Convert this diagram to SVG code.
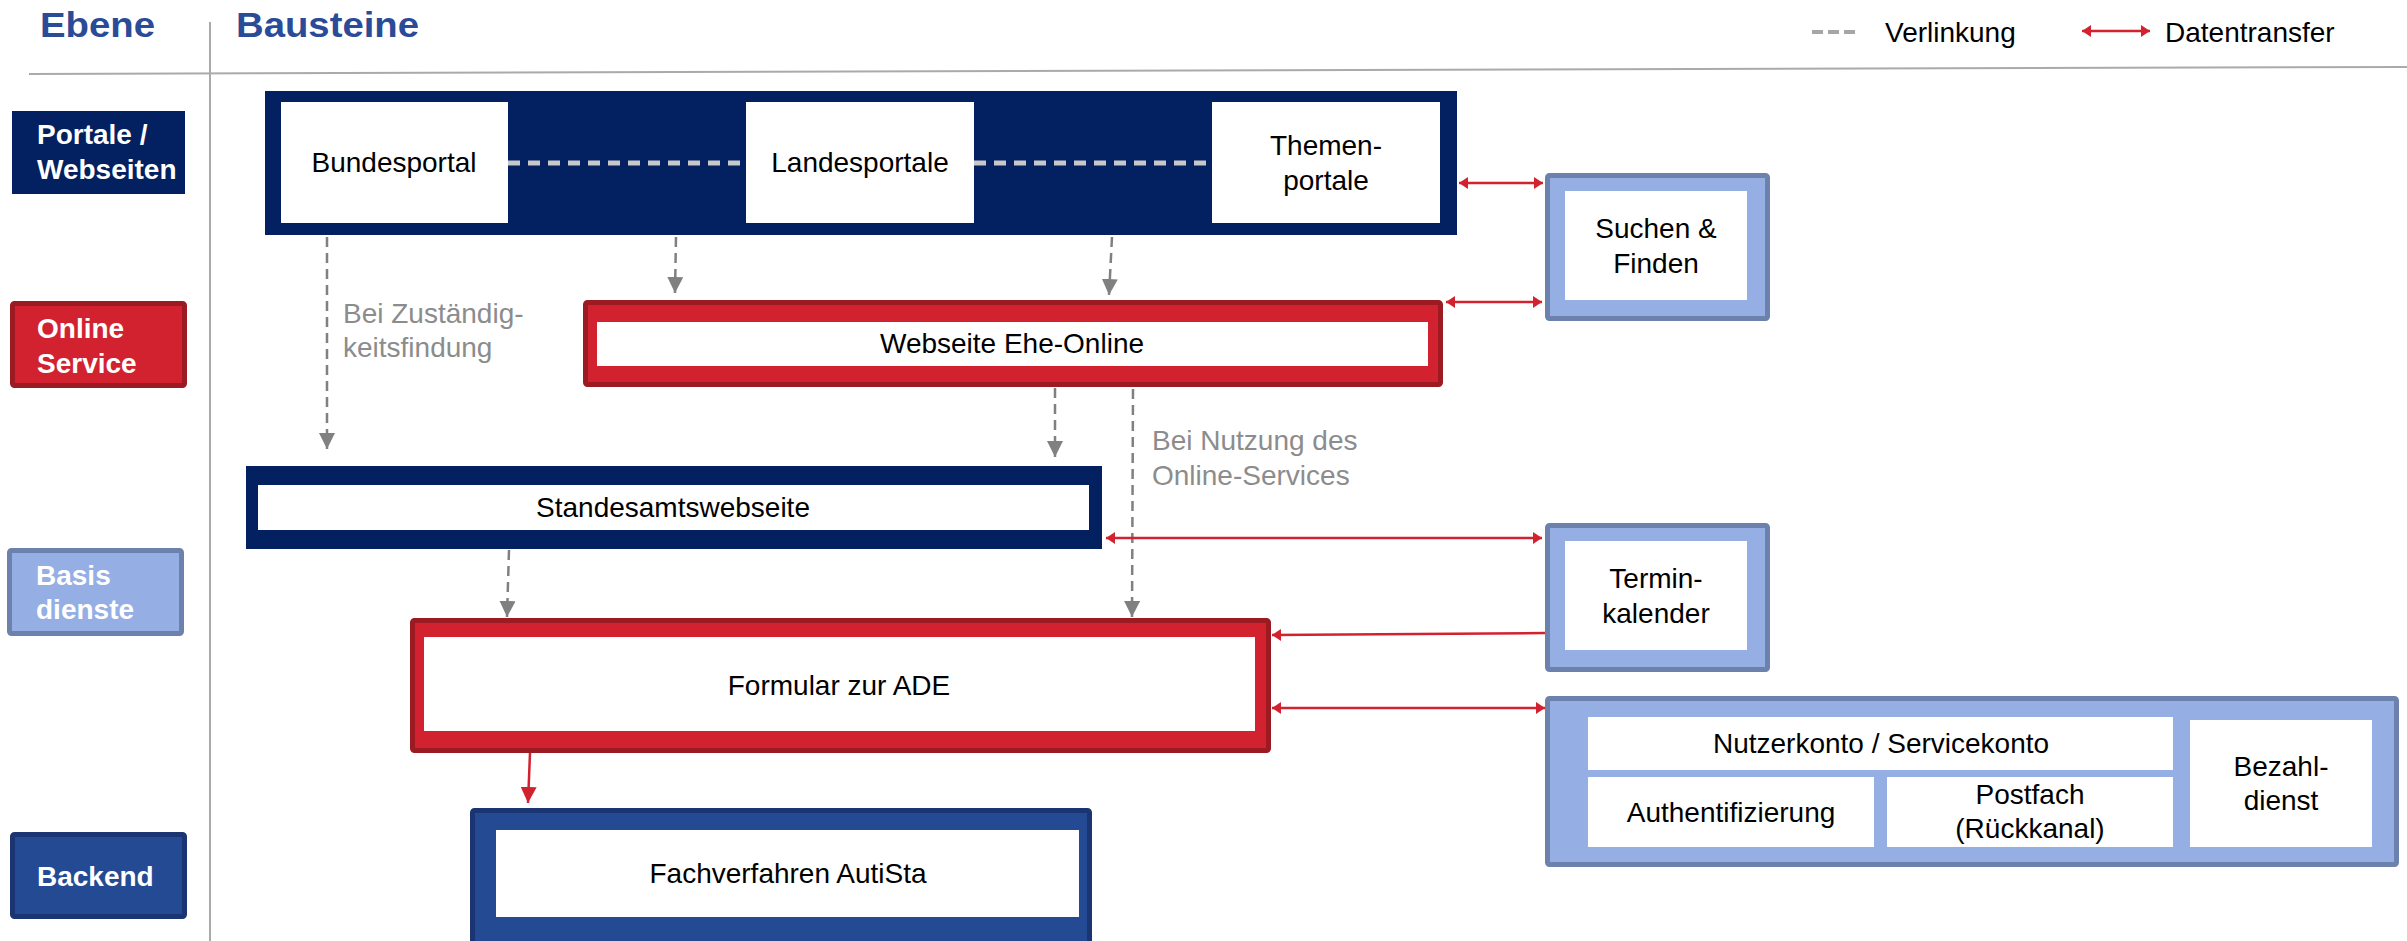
<svg xmlns="http://www.w3.org/2000/svg" width="2407" height="941" viewBox="0 0 2407 941">
<style>
text{font-family:"Liberation Sans",Arial,sans-serif;font-size:28px;fill:#000}
.title{font-size:35px;font-weight:bold;fill:#2a4b97}
.lbl{font-weight:bold;fill:#fff;font-size:28px}
.c{text-anchor:middle}
.note{fill:#8c8c8c}
.navy{fill:#032060}
.red{fill:#d3222f;stroke:#9c1a22;stroke-width:5}
.lb{fill:#95aee3;stroke:#6c82ad;stroke-width:5}
.blue{fill:#244a93;stroke:#1a3572;stroke-width:5}
.w{fill:#fff}
.link{stroke:#c8c8c8;stroke-width:5;stroke-dasharray:12 8;fill:none}
.ga{stroke:#808080;stroke-width:2.5;stroke-dasharray:10 6;fill:none;marker-end:url(#ga)}
.ra{stroke:#d3222f;stroke-width:2.5;fill:none}
.dbl{marker-start:url(#rs);marker-end:url(#rs)}
.one{marker-end:url(#rs)}
.big{marker-end:url(#rb)}
</style>
<defs>
<marker id="ga" markerUnits="userSpaceOnUse" markerWidth="16" markerHeight="16" refX="16" refY="8" orient="auto"><path d="M0,0 L16,8 L0,16 z" fill="#808080"/></marker>
<marker id="rs" markerUnits="userSpaceOnUse" markerWidth="10" markerHeight="12" refX="9" refY="6" orient="auto-start-reverse"><path d="M0,0 L9,6 L0,12 z" fill="#d3222f"/></marker>
<marker id="rb" markerUnits="userSpaceOnUse" markerWidth="16" markerHeight="16" refX="16" refY="8" orient="auto"><path d="M0,0 L16,8 L0,16 z" fill="#d3222f"/></marker>
</defs>

<g id="header">
<text class="title" x="40" y="37" textLength="115" lengthAdjust="spacingAndGlyphs">Ebene</text>
<text class="title" x="236" y="37" textLength="183" lengthAdjust="spacingAndGlyphs">Bausteine</text>
<line x1="210" y1="22" x2="210" y2="941" stroke="#aaaaaa" stroke-width="2"/>
<line x1="29" y1="74" x2="2407" y2="67" stroke="#aaaaaa" stroke-width="2"/>
</g>

<g id="legend">
<line x1="1812" y1="32" x2="1857" y2="32" stroke="#a6a6a6" stroke-width="4" stroke-dasharray="11 5"/>
<text x="1885" y="42">Verlinkung</text>
<line x1="2082" y1="31" x2="2150" y2="31" class="ra dbl"/>
<text x="2165" y="42">Datentransfer</text>
</g>

<g id="label-portale">
<rect x="12" y="111" width="173" height="83" class="navy"/>
<text class="lbl" x="37" y="144">Portale /</text>
<text class="lbl" x="37" y="179">Webseiten</text>
</g>
<g id="label-online">
<rect x="12.5" y="303.5" width="172" height="82" rx="2" class="red"/>
<text class="lbl" x="37" y="338">Online</text>
<text class="lbl" x="37" y="373">Service</text>
</g>
<g id="label-basis">
<rect x="9.5" y="550.5" width="172" height="83" rx="2" class="lb"/>
<text class="lbl" x="36" y="585">Basis</text>
<text class="lbl" x="36" y="619">dienste</text>
</g>
<g id="label-backend">
<rect x="12.5" y="834.5" width="172" height="82" rx="2" class="blue"/>
<text class="lbl" x="37" y="886">Backend</text>
</g>

<g id="portale">
<rect x="265" y="91" width="1192" height="144" class="navy"/>
</g>
<g id="bundesportal">
<rect x="281" y="102" width="227" height="121" class="w"/>
<text class="c" x="394" y="172">Bundesportal</text>
</g>
<g id="landesportale">
<rect x="746" y="102" width="228" height="121" class="w"/>
<text class="c" x="860" y="172">Landesportale</text>
</g>
<g id="themenportale">
<rect x="1212" y="102" width="228" height="121" class="w"/>
<text class="c" x="1326" y="155">Themen-</text>
<text class="c" x="1326" y="190">portale</text>
</g>

<g id="suchen">
<rect x="1547.5" y="175.5" width="220" height="143" rx="2" class="lb"/>
<rect x="1565" y="191" width="182" height="109" class="w"/>
<text class="c" x="1656" y="238">Suchen &amp;</text>
<text class="c" x="1656" y="273">Finden</text>
</g>

<g id="webseite">
<rect x="585.5" y="302.5" width="855" height="82" rx="2" class="red"/>
<rect x="597" y="322" width="831" height="44" class="w"/>
<text class="c" x="1012" y="353">Webseite Ehe-Online</text>
</g>

<g id="standesamt">
<rect x="246" y="466" width="856" height="83" class="navy"/>
<rect x="258" y="485" width="831" height="45" class="w"/>
<text class="c" x="673" y="517">Standesamtswebseite</text>
</g>

<g id="termin">
<rect x="1547.5" y="525.5" width="220" height="144" rx="2" class="lb"/>
<rect x="1565" y="541" width="182" height="109" class="w"/>
<text class="c" x="1656" y="588">Termin-</text>
<text class="c" x="1656" y="623">kalender</text>
</g>

<g id="formular">
<rect x="412.5" y="620.5" width="856" height="130" rx="2" class="red"/>
<rect x="424" y="637" width="831" height="94" class="w"/>
<text class="c" x="839" y="695">Formular zur ADE</text>
</g>

<g id="fachverfahren">
<rect x="472.5" y="810.5" width="617" height="140" rx="2" class="blue"/>
<rect x="496" y="830" width="583" height="87" class="w"/>
<text class="c" x="788" y="883">Fachverfahren AutiSta</text>
</g>

<g id="nutzerkonto">
<rect x="1547.5" y="698.5" width="849" height="166" rx="2" class="lb"/>
<rect x="1588" y="717" width="585" height="53" class="w"/>
<text class="c" x="1881" y="753">Nutzerkonto / Servicekonto</text>
<rect x="1588" y="777" width="286" height="70" class="w"/>
<text class="c" x="1731" y="822">Authentifizierung</text>
<rect x="1887" y="777" width="286" height="70" class="w"/>
<text class="c" x="2030" y="804">Postfach</text>
<text class="c" x="2030" y="838">(Rückkanal)</text>
<rect x="2190" y="720" width="182" height="127" class="w"/>
<text class="c" x="2281" y="776">Bezahl-</text>
<text class="c" x="2281" y="810">dienst</text>
</g>

<g id="connectors">
<line x1="508" y1="163" x2="746" y2="163" class="link"/>
<line x1="974" y1="163" x2="1212" y2="163" class="link"/>
<line x1="327" y1="237" x2="327" y2="449" class="ga"/>
<line x1="676" y1="237" x2="675" y2="293" class="ga"/>
<line x1="1112" y1="237" x2="1109" y2="295" class="ga"/>
<line x1="1055" y1="388" x2="1055" y2="457" class="ga"/>
<line x1="1133" y1="389" x2="1132" y2="617" class="ga"/>
<line x1="509" y1="550" x2="507" y2="617" class="ga"/>
<text class="note" x="343" y="323">Bei Zuständig-</text>
<text class="note" x="343" y="357">keitsfindung</text>
<text class="note" x="1152" y="450">Bei Nutzung des</text>
<text class="note" x="1152" y="485">Online-Services</text>
<line x1="1459" y1="183" x2="1543" y2="183" class="ra dbl"/>
<line x1="1446" y1="302" x2="1542" y2="302" class="ra dbl"/>
<line x1="1106" y1="538" x2="1542" y2="538" class="ra dbl"/>
<line x1="1545" y1="633" x2="1272" y2="635" class="ra one"/>
<line x1="1272" y1="708" x2="1545" y2="708" class="ra dbl"/>
<line x1="530" y1="753" x2="528" y2="803" class="ra big"/>
</g>
</svg>
